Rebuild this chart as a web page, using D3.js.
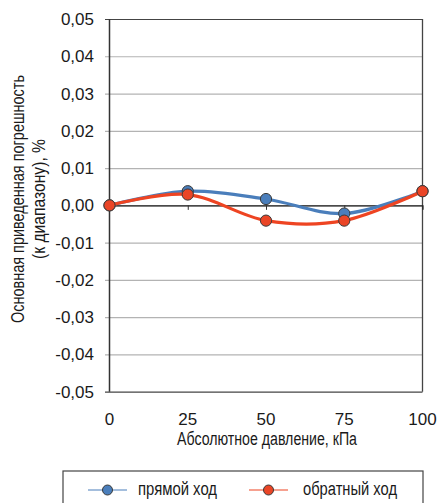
<!DOCTYPE html>
<html>
<head>
<meta charset="utf-8">
<script src="https://cdn.jsdelivr.net/npm/d3@7"></script>
<style>
  html, body { margin: 0; padding: 0; background: #fff; }
  svg { display: block; }
  .num { font-family: "Liberation Sans", Arial, sans-serif; font-size: 17px; fill: #1a1a1a; }
  .cond { font-family: "Liberation Sans", Arial, sans-serif; fill: #1a1a1a; }
</style>
</head>
<body>
<svg id="chart" width="437" height="503"></svg>
<script>
// Pressure points, kPa
const pressures = [0, 25, 50, 75, 100];
// Reduced error, % of range
const forwardStroke = [0, 0.0038, 0.0017, -0.0022, 0.0038];
const reverseStroke = [0, 0.0029, -0.0041, -0.0041, 0.0038];
const seriesNames = ["прямой ход", "обратный ход"];
const yTicks = [0.05, 0.04, 0.03, 0.02, 0.01, 0, -0.01, -0.02, -0.03, -0.04, -0.05];
const xTicks = [0, 25, 50, 75, 100];
const xTitle = "Абсолютное давление, кПа";
const yTitle = ["Основная приведенная погрешность", "(к диапазону), %"];

const colors = { fwdLine: "#4a7ebb", fwdDot: "#4a7ebb", revLine: "#ee4422", revDot: "#ea4526" };

const svg = d3.select("#chart");
const plotL = 109.5, plotR = 422.5, plotT = 19, plotB = 391.7;

const x = d3.scaleLinear().domain([0, 100]).range([plotL, plotR]);
const y = d3.scaleLinear().domain([-0.05, 0.05]).range([plotB, plotT]);
const fmt = v => d3.format(".2f")(v).replace(".", ",").replace("−", "-");

// horizontal gridlines with outward ticks on the left
const yAxis = d3.axisLeft(y).tickValues(yTicks).tickSize(-(plotR - plotL)).tickFormat("");
const gy = svg.append("g").attr("transform", `translate(${plotL},0)`).call(yAxis);
gy.select(".domain").remove();
gy.selectAll(".tick line").attr("stroke", "#b3b3b3").attr("stroke-width", 1.2).attr("x1", -4.5);
gy.selectAll(".tick").filter(d => d === 0.05 || d === -0.05).select("line").attr("stroke", "#444");

// tick labels
svg.append("g").selectAll("text").data(yTicks).join("text")
  .attr("class", "num")
  .attr("x", 94).attr("y", d => y(d) + 6)
  .attr("text-anchor", "end")
  .text(fmt);

// frame: right border and left axis
svg.append("line").attr("x1", plotR).attr("x2", plotR).attr("y1", plotT).attr("y2", plotB)
  .attr("stroke", "#444").attr("stroke-width", 1.3);
svg.append("line").attr("x1", plotL).attr("x2", plotL).attr("y1", plotT).attr("y2", plotB)
  .attr("stroke", "#333").attr("stroke-width", 1.5);

// category axis crossing at zero
const xAxis = d3.axisBottom(x).tickValues(xTicks.filter(d => d > 0 && d < 100)).tickSize(4.5).tickFormat("");
const gx = svg.append("g").attr("transform", `translate(0,${y(0)})`).call(xAxis);
gx.select(".domain").attr("stroke", "#222").attr("stroke-width", 1.2);
gx.selectAll(".tick line").attr("stroke", "#333");

svg.append("g").selectAll("text").data(xTicks).join("text")
  .attr("class", "num")
  .attr("x", d => x(d)).attr("y", 425)
  .attr("text-anchor", "middle")
  .text(d => d);

// axis titles (narrow lettering)
svg.append("text").attr("class", "cond").attr("font-size", 18)
  .attr("x", 177).attr("y", 445)
  .attr("textLength", 180).attr("lengthAdjust", "spacingAndGlyphs")
  .text(xTitle);

const yt = svg.append("g").attr("transform", "translate(24,199) rotate(-90)");
yt.append("text").attr("class", "cond").attr("font-size", 18)
  .attr("x", -124).attr("y", 0)
  .attr("textLength", 248).attr("lengthAdjust", "spacingAndGlyphs")
  .text(yTitle[0]);
yt.append("text").attr("class", "cond").attr("font-size", 18)
  .attr("x", -60).attr("y", 21)
  .attr("textLength", 120).attr("lengthAdjust", "spacingAndGlyphs")
  .text(yTitle[1]);

// series
const line = d3.line().x((d, i) => x(pressures[i])).y(d => y(d)).curve(d3.curveCardinal.tension(0));
const series = [
  { vals: forwardStroke, line: colors.fwdLine, dot: colors.fwdDot },
  { vals: reverseStroke, line: colors.revLine, dot: colors.revDot }
];
series.forEach(s => {
  svg.append("path").attr("d", line(s.vals)).attr("fill", "none")
    .attr("stroke", s.line).attr("stroke-width", 3.2).attr("stroke-linecap", "round");
  svg.append("g").selectAll("circle").data(s.vals).join("circle")
    .attr("cx", (d, i) => x(pressures[i])).attr("cy", d => y(d)).attr("r", 5.6)
    .attr("fill", s.dot).attr("stroke", "#3a3a3a").attr("stroke-width", 1);
});

// legend
svg.append("rect").attr("x", 63).attr("y", 471).attr("width", 360).attr("height", 50)
  .attr("fill", "none").attr("stroke", "#444").attr("stroke-width", 1.2);
const legendItems = [
  { name: seriesNames[0], color: colors.fwdLine, dot: colors.fwdDot, x0: 88, x1: 127, tx: 138, w: 79 },
  { name: seriesNames[1], color: colors.revLine, dot: colors.revDot, x0: 249, x1: 288, tx: 303, w: 94 }
];
legendItems.forEach(it => {
  svg.append("line").attr("x1", it.x0).attr("x2", it.x1).attr("y1", 490).attr("y2", 490)
    .attr("stroke", it.color).attr("stroke-width", 1.2);
  svg.append("circle").attr("cx", (it.x0 + it.x1) / 2).attr("cy", 490).attr("r", 5)
    .attr("fill", it.dot).attr("stroke", "#3a3a3a").attr("stroke-width", 1);
  svg.append("text").attr("class", "cond").attr("font-size", 18)
    .attr("x", it.tx).attr("y", 495)
    .attr("textLength", it.w).attr("lengthAdjust", "spacingAndGlyphs")
    .text(it.name);
});
</script>
</body>
</html>
